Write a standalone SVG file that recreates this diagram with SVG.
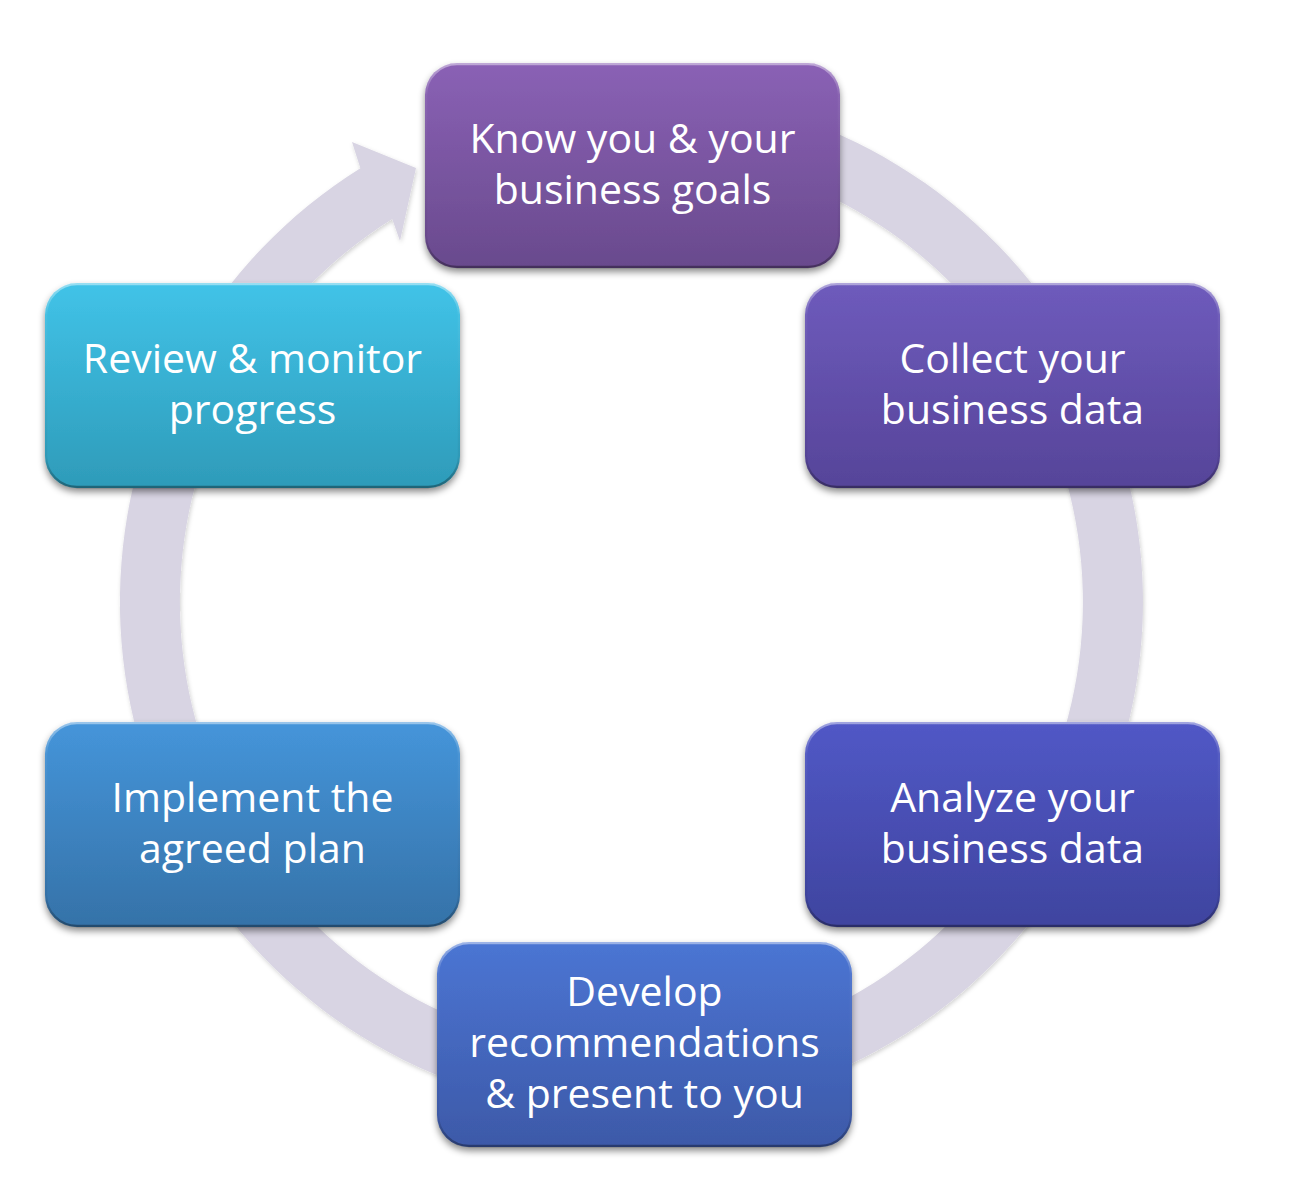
<svg xmlns="http://www.w3.org/2000/svg" width="1298" height="1194" viewBox="0 0 1298 1194">
  <defs>
    <style>
      .lbl { font-family: "Open Sans", "Liberation Sans", sans-serif; font-size: 41px; fill: #ffffff; text-anchor: middle; }
      .box { filter: url(#boxShadow); }
      .bevel { fill: none; stroke: url(#bevelGrad); stroke-width: 2.5; }
    </style>
    <filter id="boxShadow" x="-10%" y="-10%" width="120%" height="130%">
      <feDropShadow dx="0" dy="4" stdDeviation="3.5" flood-color="#000000" flood-opacity="0.45"/>
    </filter>
    <filter id="ringShadow" x="-10%" y="-10%" width="120%" height="120%">
      <feDropShadow dx="1" dy="2" stdDeviation="2" flood-color="#000000" flood-opacity="0.18"/>
    </filter>
    <linearGradient id="bevelGrad" x1="0" y1="0" x2="0" y2="1">
      <stop offset="0" stop-color="#ffffff" stop-opacity="0.45"/>
      <stop offset="0.15" stop-color="#ffffff" stop-opacity="0.05"/>
      <stop offset="0.85" stop-color="#000000" stop-opacity="0.05"/>
      <stop offset="1" stop-color="#000000" stop-opacity="0.35"/>
    </linearGradient>
    <linearGradient id="gKnow" x1="0" y1="0" x2="0" y2="1">
      <stop offset="0" stop-color="#8a61b5"/>
      <stop offset="1" stop-color="#694a8d"/>
    </linearGradient>
    <linearGradient id="gCollect" x1="0" y1="0" x2="0" y2="1">
      <stop offset="0" stop-color="#6e5bbc"/>
      <stop offset="1" stop-color="#564499"/>
    </linearGradient>
    <linearGradient id="gAnalyze" x1="0" y1="0" x2="0" y2="1">
      <stop offset="0" stop-color="#5158c6"/>
      <stop offset="1" stop-color="#3f449f"/>
    </linearGradient>
    <linearGradient id="gDevelop" x1="0" y1="0" x2="0" y2="1">
      <stop offset="0" stop-color="#4b75d3"/>
      <stop offset="1" stop-color="#3d59a8"/>
    </linearGradient>
    <linearGradient id="gImplement" x1="0" y1="0" x2="0" y2="1">
      <stop offset="0" stop-color="#4595da"/>
      <stop offset="1" stop-color="#3572a8"/>
    </linearGradient>
    <linearGradient id="gReview" x1="0" y1="0" x2="0" y2="1">
      <stop offset="0" stop-color="#41c3e8"/>
      <stop offset="1" stop-color="#2e9bb9"/>
    </linearGradient>
  </defs>

  <rect x="0" y="0" width="1298" height="1194" fill="#ffffff"/>

  <g id="connectors">
    <path filter="url(#ringShadow)" fill="#d8d4e3"
      d="M 499.1 107.9 A 511.5 511.5 0 1 1 360.4 168.2 L 352 142 L 416 168 L 400 241 L 392.2 219.1 A 451.5 451.5 0 1 0 514.6 165.9 Z"/>
  </g>

  <g id="node-know">
    <rect class="box" x="425" y="63" width="415" height="205" rx="32" fill="url(#gKnow)"/>
    <rect class="bevel" x="426" y="64" width="413" height="203" rx="31"/>
    <text class="lbl" x="632.5" y="153">Know you &amp; your</text>
    <text class="lbl" x="632.5" y="204">business goals</text>
  </g>

  <g id="node-collect">
    <rect class="box" x="805" y="283" width="415" height="205" rx="32" fill="url(#gCollect)"/>
    <rect class="bevel" x="806" y="284" width="413" height="203" rx="31"/>
    <text class="lbl" x="1012.5" y="373">Collect your</text>
    <text class="lbl" x="1012.5" y="424">business data</text>
  </g>

  <g id="node-analyze">
    <rect class="box" x="805" y="722" width="415" height="205" rx="32" fill="url(#gAnalyze)"/>
    <rect class="bevel" x="806" y="723" width="413" height="203" rx="31"/>
    <text class="lbl" x="1012.5" y="812">Analyze your</text>
    <text class="lbl" x="1012.5" y="863">business data</text>
  </g>

  <g id="node-develop">
    <rect class="box" x="437" y="942" width="415" height="205" rx="32" fill="url(#gDevelop)"/>
    <rect class="bevel" x="438" y="943" width="413" height="203" rx="31"/>
    <text class="lbl" x="644.5" y="1006">Develop</text>
    <text class="lbl" x="644.5" y="1057">recommendations</text>
    <text class="lbl" x="644.5" y="1108">&amp; present to you</text>
  </g>

  <g id="node-implement">
    <rect class="box" x="45" y="722" width="415" height="205" rx="32" fill="url(#gImplement)"/>
    <rect class="bevel" x="46" y="723" width="413" height="203" rx="31"/>
    <text class="lbl" x="252.5" y="812">Implement the</text>
    <text class="lbl" x="252.5" y="863">agreed plan</text>
  </g>

  <g id="node-review">
    <rect class="box" x="45" y="283" width="415" height="205" rx="32" fill="url(#gReview)"/>
    <rect class="bevel" x="46" y="284" width="413" height="203" rx="31"/>
    <text class="lbl" x="252.5" y="373">Review &amp; monitor</text>
    <text class="lbl" x="252.5" y="424">progress</text>
  </g>
</svg>
